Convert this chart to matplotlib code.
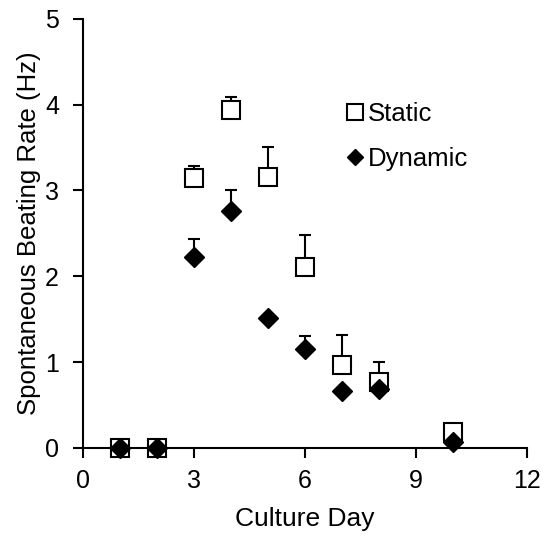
import matplotlib
matplotlib.use("Agg")
import matplotlib.pyplot as plt
import numpy as np

plt.rcParams['font.family'] = ['Liberation Sans', 'DejaVu Sans']

days = [1, 2, 3, 4, 5, 6, 7, 8, 10]
static_mean = [0.0, 0.0, 3.14, 3.94, 3.16, 2.11, 0.97, 0.77, 0.18]
static_err = [0.0, 0.0, 0.14, 0.15, 0.35, 0.37, 0.34, 0.23, 0.10]
dynamic_mean = [0.0, 0.0, 2.22, 2.76, 1.51, 1.15, 0.66, 0.69, 0.07]
dynamic_err = [0.0, 0.0, 0.21, 0.25, 0.0, 0.15, 0.0, 0.0, 0.0]

fig = plt.figure(figsize=(5.44, 5.39), dpi=100)
ax = fig.add_axes([0.152, 0.169, 0.816, 0.796])

ax.errorbar(days, static_mean, yerr=[np.zeros(len(days)), static_err],
            fmt='none', ecolor='black', elinewidth=1.5, capsize=4, capthick=1.5, zorder=2)
ax.plot(days, static_mean, 's', ms=13.5, mfc='white', mec='black', mew=1.5,
        linestyle='none', zorder=3, label='Static', clip_on=False)
ax.errorbar(days, dynamic_mean, yerr=[np.zeros(len(days)), dynamic_err],
            fmt='none', ecolor='black', elinewidth=1.5, capsize=4, capthick=1.5, zorder=4)
ax.plot(days, dynamic_mean, 'D', ms=9.8, mfc='black', mec='black',
        linestyle='none', zorder=5, label='Dynamic', clip_on=False)

ax.set_xlim(0, 12)
ax.set_ylim(0, 5)
ax.set_xticks([0, 3, 6, 9, 12])
ax.set_yticks([0, 1, 2, 3, 4, 5])
ax.spines['top'].set_visible(False)
ax.spines['right'].set_visible(False)
for s in ['left', 'bottom']:
    ax.spines[s].set_linewidth(1.5)
ax.tick_params(direction='out', length=7, width=1.5, labelsize=18)
ax.tick_params(axis='x', pad=8)
ax.tick_params(axis='y', pad=10)

ax.set_xlabel('Culture Day', fontsize=19, labelpad=10)
ax.set_ylabel('Spontaneous Beating Rate (Hz)', fontsize=18.5, labelpad=3)

leg = ax.legend(loc='upper left', bbox_to_anchor=(0.567, 0.831), frameon=False,
                fontsize=18.5, handlelength=0.8, handletextpad=0.1,
                labelspacing=0.85, borderaxespad=0, markerscale=0.88)

fig.savefig('out.png', dpi=100)
